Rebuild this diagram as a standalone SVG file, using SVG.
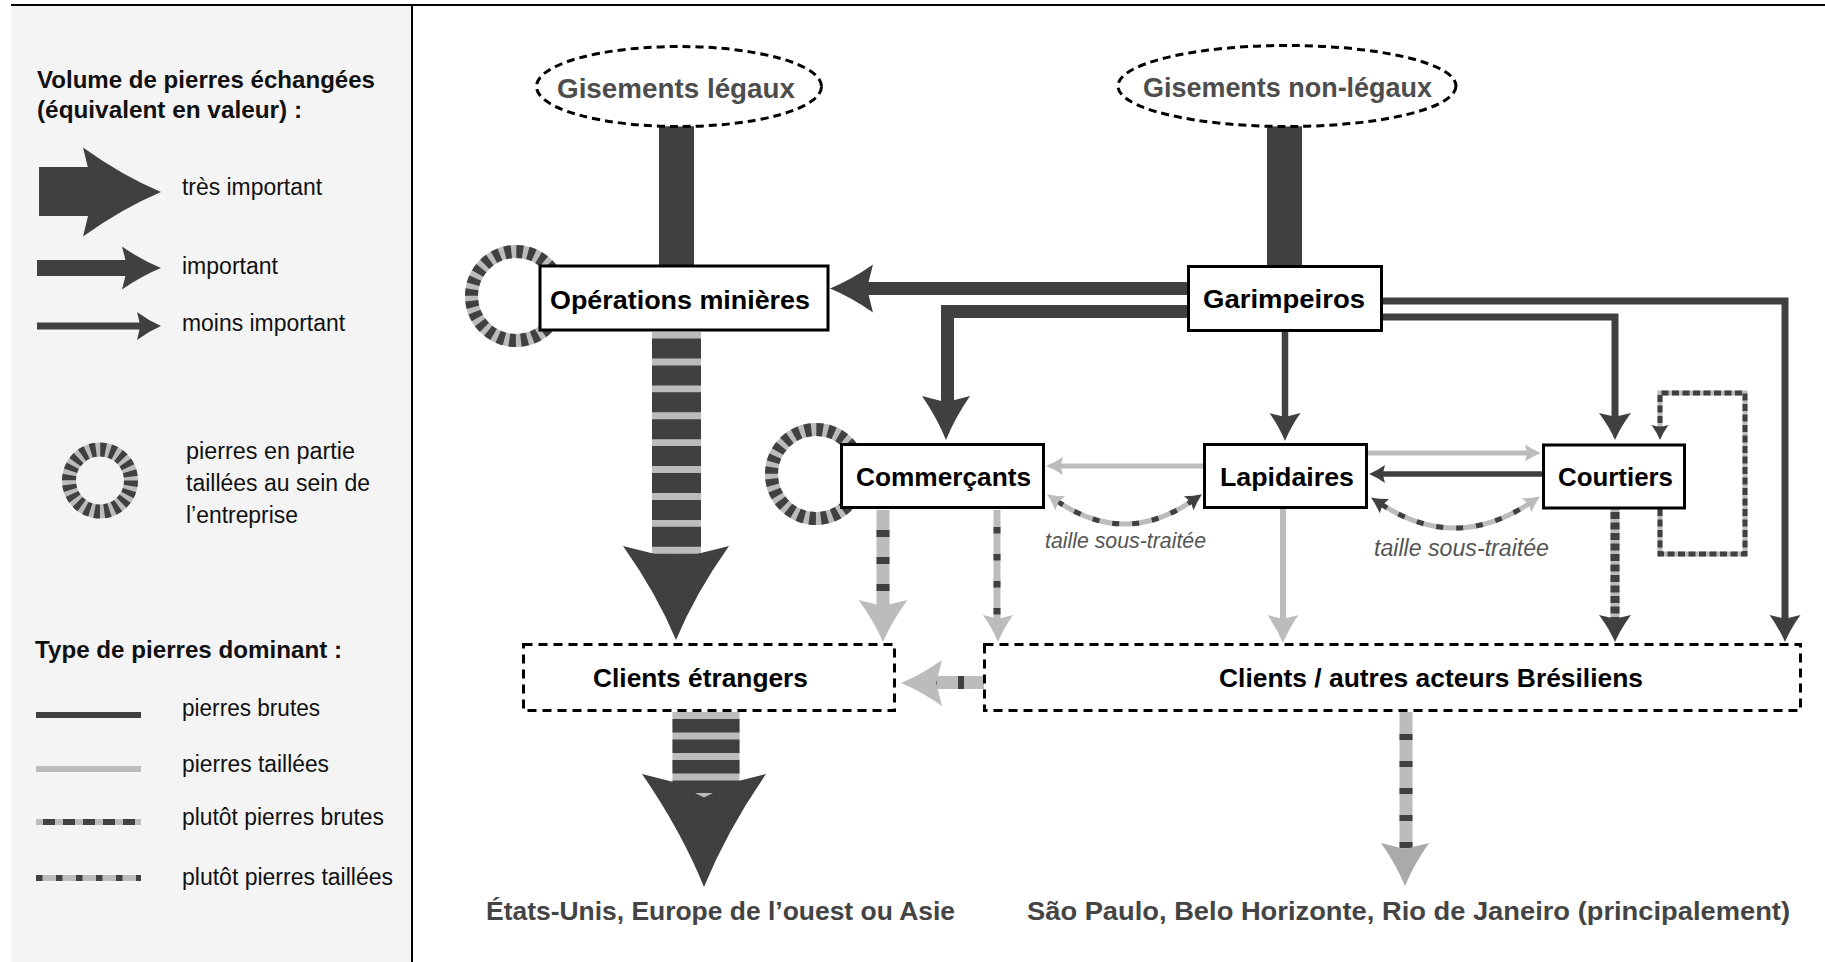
<svg xmlns="http://www.w3.org/2000/svg" width="1825" height="962" viewBox="0 0 1825 962">
<style>
.fd{fill:#404040}
.fl{fill:#bcbcbc}
.fm{fill:#aaaaaa}
.sd{stroke:#404040;fill:none}
.sl{stroke:#bcbcbc;fill:none}
.box{fill:#fff;stroke:#000;stroke-width:3}
.dbox{fill:#fff;stroke:#000;stroke-width:3;stroke-dasharray:9 6}
.ell{fill:#fff;stroke:#000;stroke-width:3;stroke-dasharray:8 5}
.ringb{fill:none;stroke:#bcbcbc;stroke-width:13}
.ringd{fill:none;stroke:#404040;stroke-width:13;stroke-dasharray:6.6 5.05}
text{font-family:"Liberation Sans",Arial,sans-serif}
.lbl{font-weight:bold;font-size:26.5px;fill:#000}
.gis{font-weight:bold;font-size:27px;fill:#4d4d4d}
.bot{font-weight:bold;font-size:26.5px;fill:#444}
.leg{font-size:23px;fill:#111}
.legh{font-weight:bold;font-size:24px;fill:#111}
.ts{font-style:italic;font-size:21.5px;fill:#555}
</style>
<defs>
<path id="hd" d="M0,0 Q-0.5,-0.37 -1,-1 L-0.86,0 L-1,1 Q-0.5,0.37 0,0Z"/>
</defs>
<rect width="1825" height="962" fill="#fff"/>

<g id="legend">
<rect x="11" y="5" width="401" height="957" fill="#f4f4f4"/>
<line x1="11" y1="5" x2="1825" y2="5" stroke="#000" stroke-width="2"/>
<line x1="412" y1="5" x2="412" y2="962" stroke="#000" stroke-width="2"/>
<text class="legh" x="37" y="88" textLength="338" lengthAdjust="spacingAndGlyphs">Volume de pierres échangées</text>
<text class="legh" x="37" y="118" textLength="265" lengthAdjust="spacingAndGlyphs">(équivalent en valeur) :</text>
<rect x="39" y="167" width="60" height="49" class="fd"/>
<use href="#hd" class="fd" transform="translate(161,192) scale(78,44.5)"/>
<text class="leg" x="182" y="195" textLength="140" lengthAdjust="spacingAndGlyphs">très important</text>
<rect x="37" y="260" width="95" height="16" class="fd"/>
<use href="#hd" class="fd" transform="translate(161,268) scale(39,21.5)"/>
<text class="leg" x="182" y="274" textLength="96" lengthAdjust="spacingAndGlyphs">important</text>
<rect x="37" y="322.5" width="110" height="7" class="fd"/>
<use href="#hd" class="fd" transform="translate(161,326) scale(24,14)"/>
<text class="leg" x="182" y="331" textLength="163" lengthAdjust="spacingAndGlyphs">moins important</text>
<circle cx="100" cy="480.5" r="31" fill="none" stroke="#bcbcbc" stroke-width="14"/>
<circle cx="100" cy="480.5" r="31" fill="none" stroke="#404040" stroke-width="14" stroke-dasharray="5.4 4.34"/>
<text class="leg" x="186" y="459" textLength="169" lengthAdjust="spacingAndGlyphs">pierres en partie</text>
<text class="leg" x="186" y="491" textLength="184" lengthAdjust="spacingAndGlyphs">taillées au sein de</text>
<text class="leg" x="186" y="523" textLength="112" lengthAdjust="spacingAndGlyphs">l’entreprise</text>
<text class="legh" x="35" y="658" textLength="307" lengthAdjust="spacingAndGlyphs">Type de pierres dominant :</text>
<line x1="36" y1="715" x2="141" y2="715" class="sd" stroke-width="6"/>
<line x1="36" y1="769" x2="141" y2="769" class="sl" stroke-width="6"/>
<line x1="36" y1="822" x2="141" y2="822" class="sl" stroke-width="6"/>
<line x1="43" y1="822" x2="141" y2="822" class="sd" stroke-width="6" stroke-dasharray="12 8"/>
<line x1="36" y1="878" x2="141" y2="878" class="sl" stroke-width="6"/>
<line x1="36" y1="878" x2="141" y2="878" class="sd" stroke-width="6" stroke-dasharray="6.5 13.5"/>
<text class="leg" x="182" y="716" textLength="138" lengthAdjust="spacingAndGlyphs">pierres brutes</text>
<text class="leg" x="182" y="772" textLength="147" lengthAdjust="spacingAndGlyphs">pierres taillées</text>
<text class="leg" x="182" y="825" textLength="202" lengthAdjust="spacingAndGlyphs">plutôt pierres brutes</text>
<text class="leg" x="182" y="885" textLength="211" lengthAdjust="spacingAndGlyphs">plutôt pierres taillées</text>
</g>

<g id="connectors">
<rect x="659" y="124" width="35" height="143" class="fd"/>
<rect x="1267" y="124" width="35" height="143" class="fd"/>
<!-- Opérations -> Clients étrangers -->
<line x1="676.5" y1="332" x2="676.5" y2="562" class="sl" stroke-width="49"/>
<line x1="676.5" y1="338.5" x2="676.5" y2="562" class="sd" stroke-width="49" stroke-dasharray="20 6.9"/>
<use href="#hd" class="fd" transform="translate(676,640) rotate(90) scale(94,53)"/>
<!-- Clients étrangers -> international -->
<line x1="706" y1="712" x2="706" y2="795" class="sl" stroke-width="67"/>
<line x1="706" y1="719" x2="706" y2="795" class="sd" stroke-width="67" stroke-dasharray="13.5 7"/>
<use href="#hd" class="fd" transform="translate(704,887) rotate(90) scale(113,62)"/>
<path d="M695,793 L713,793 L704,797.5Z" class="fl"/>
<!-- Garimpeiros -> Opérations -->
<line x1="1188" y1="288.5" x2="865" y2="288.5" class="sd" stroke-width="13"/>
<use href="#hd" class="fd" transform="translate(830,288.5) rotate(180) scale(43,24)"/>
<!-- Garimpeiros -> Commerçants -->
<polyline points="1188,311.5 947.5,311.5 947.5,405" class="sd" stroke-width="13" stroke-linejoin="miter"/>
<use href="#hd" class="fd" transform="translate(946,440) rotate(90) scale(44,24)"/>
<!-- Garimpeiros -> Lapidaires -->
<line x1="1285" y1="331" x2="1285" y2="420" class="sd" stroke-width="6.5"/>
<use href="#hd" class="fd" transform="translate(1285,441) rotate(90) scale(28,15.5)"/>
<!-- Garimpeiros -> Courtiers -->
<polyline points="1383,317 1615,317 1615,420" class="sd" stroke-width="7" stroke-linejoin="miter"/>
<use href="#hd" class="fd" transform="translate(1615,440) rotate(90) scale(27,16)"/>
<!-- Garimpeiros -> Clients brésiliens -->
<polyline points="1383,301 1785,301 1785,620" class="sd" stroke-width="7" stroke-linejoin="miter"/>
<use href="#hd" class="fd" transform="translate(1785,642) rotate(90) scale(27,15.5)"/>
<!-- Lapidaires -> Commerçants -->
<line x1="1203" y1="466" x2="1058" y2="466" class="sl" stroke-width="5"/>
<use href="#hd" class="fl" transform="translate(1046,466) rotate(180) scale(17,9)"/>
<!-- Lapidaires -> Courtiers -->
<line x1="1368" y1="453" x2="1528" y2="453" class="sl" stroke-width="5"/>
<use href="#hd" class="fl" transform="translate(1541,453) scale(16,8.5)"/>
<!-- Courtiers -> Lapidaires -->
<line x1="1542" y1="474" x2="1382" y2="474" class="sd" stroke-width="5.5"/>
<use href="#hd" class="fd" transform="translate(1369,474) rotate(180) scale(16,9)"/>
<!-- Lapidaires -> Clients brésiliens -->
<line x1="1283" y1="509" x2="1283" y2="625" class="sl" stroke-width="6"/>
<use href="#hd" class="fl" transform="translate(1283,643) rotate(90) scale(28,15.5)"/>
<!-- taille sous-traitée : Commerçants <-> Lapidaires -->
<path d="M1057,501 Q1124.5,547 1192,501" class="sl" stroke-width="5"/>
<path d="M1057,501 Q1124.5,547 1192,501" class="sd" stroke-width="5" stroke-dasharray="7 13"/>
<use href="#hd" class="fl" transform="translate(1047,494.2) rotate(214.3) scale(16,8.5)"/>
<use href="#hd" class="fd" transform="translate(1202,494.2) rotate(-34.3) scale(16,8.5)"/>
<!-- taille sous-traitée : Lapidaires <-> Courtiers -->
<path d="M1381,504 Q1455.5,552.5 1530,503" class="sl" stroke-width="5"/>
<path d="M1381,504 Q1455.5,552.5 1530,503" class="sd" stroke-width="5" stroke-dasharray="7 13"/>
<use href="#hd" class="fd" transform="translate(1371,497.5) rotate(213.1) scale(16,8.5)"/>
<use href="#hd" class="fl" transform="translate(1540,496.4) rotate(-33.6) scale(16,8.5)"/>
<!-- Courtiers self loop -->
<path d="M1660,509 V554 H1745 V393 H1660 V428" class="sl" stroke-width="5"/>
<path d="M1660,509 V554 H1745 V393 H1660 V428" class="sd" stroke-width="5" stroke-dasharray="7 3.5"/>
<use href="#hd" class="fd" transform="translate(1660,440) rotate(90) scale(15,8.5)"/>
<!-- Courtiers -> Clients brésiliens -->
<line x1="1615" y1="509" x2="1615" y2="625" class="sl" stroke-width="9"/>
<line x1="1615" y1="512" x2="1615" y2="625" class="sd" stroke-width="9" stroke-dasharray="7 3.5"/>
<use href="#hd" class="fd" transform="translate(1615,642) rotate(90) scale(27,16)"/>
<!-- Commerçants -> Clients étrangers -->
<line x1="883" y1="510" x2="883" y2="612" class="sl" stroke-width="13"/>
<line x1="883" y1="530" x2="883" y2="600" class="sd" stroke-width="13" stroke-dasharray="7 20"/>
<use href="#hd" class="fl" transform="translate(883,642) rotate(90) scale(42,24.5)"/>
<!-- Commerçants -> Clients brésiliens -->
<line x1="997" y1="510" x2="997" y2="625" class="sl" stroke-width="7"/>
<line x1="997" y1="527" x2="997" y2="618" class="sd" stroke-width="7" stroke-dasharray="6.5 20.5"/>
<use href="#hd" class="fl" transform="translate(998,642) rotate(90) scale(27,15)"/>
<!-- Clients brésiliens -> Clients étrangers -->
<line x1="984" y1="682.5" x2="930" y2="682.5" class="sl" stroke-width="13"/>
<rect x="958" y="676" width="6" height="13" class="fd"/>
<rect x="932" y="676" width="5" height="13" class="fd"/>
<use href="#hd" class="fl" transform="translate(901,683) rotate(180) scale(41,23)"/>
<!-- Clients brésiliens -> villes -->
<line x1="1406" y1="712" x2="1406" y2="862" class="sl" stroke-width="13"/>
<line x1="1406" y1="734" x2="1406" y2="850" class="sd" stroke-width="13" stroke-dasharray="6 21"/>
<use href="#hd" class="fm" transform="translate(1405,886) rotate(90) scale(43,24)"/>
</g>

<g id="gisements-legaux">
<ellipse cx="679" cy="86.5" rx="142.5" ry="40" class="ell"/>
<text class="gis" x="557" y="98" textLength="238" lengthAdjust="spacingAndGlyphs">Gisements légaux</text>
</g>
<g id="gisements-non-legaux">
<ellipse cx="1287" cy="86" rx="169" ry="40.5" class="ell"/>
<text class="gis" x="1143" y="97" textLength="289" lengthAdjust="spacingAndGlyphs">Gisements non-légaux</text>
</g>
<g id="operations-minieres">
<circle cx="516" cy="296" r="44.5" class="ringb"/>
<circle cx="516" cy="296" r="44.5" class="ringd"/>
<rect x="540" y="266" width="288" height="64" class="box"/>
<text class="lbl" x="550" y="309" textLength="260" lengthAdjust="spacingAndGlyphs">Opérations minières</text>
</g>
<g id="garimpeiros">
<rect x="1188.5" y="266.5" width="193" height="64" class="box"/>
<text class="lbl" x="1203" y="308" textLength="162" lengthAdjust="spacingAndGlyphs">Garimpeiros</text>
</g>
<g id="commercants">
<circle cx="816" cy="474" r="44.5" class="ringb"/>
<circle cx="816" cy="474" r="44.5" class="ringd"/>
<rect x="841.5" y="444.5" width="202" height="63" class="box"/>
<text class="lbl" x="856" y="486" textLength="175" lengthAdjust="spacingAndGlyphs">Commerçants</text>
</g>
<g id="lapidaires">
<rect x="1204.5" y="444.5" width="162" height="63" class="box"/>
<text class="lbl" x="1220" y="486" textLength="134" lengthAdjust="spacingAndGlyphs">Lapidaires</text>
</g>
<g id="courtiers">
<rect x="1543.5" y="445" width="141" height="63" class="box"/>
<text class="lbl" x="1558" y="486" textLength="115" lengthAdjust="spacingAndGlyphs">Courtiers</text>
</g>
<g id="clients-etrangers">
<rect x="523.5" y="644.5" width="371" height="66" class="dbox"/>
<text class="lbl" x="593" y="687" textLength="215" lengthAdjust="spacingAndGlyphs">Clients étrangers</text>
</g>
<g id="clients-bresiliens">
<rect x="984.5" y="644.5" width="816" height="66" class="dbox"/>
<text class="lbl" x="1219" y="687" textLength="424" lengthAdjust="spacingAndGlyphs">Clients / autres acteurs Brésiliens</text>
</g>
<g id="labels">
<text class="ts" x="1045" y="548" textLength="161" lengthAdjust="spacingAndGlyphs">taille sous-traitée</text>
<text class="ts" x="1374" y="556" textLength="175" lengthAdjust="spacingAndGlyphs" style="font-size:23px">taille sous-traitée</text>
<text class="bot" x="486" y="920" textLength="469" lengthAdjust="spacingAndGlyphs">États-Unis, Europe de l’ouest ou Asie</text>
<text class="bot" x="1027" y="920" textLength="763" lengthAdjust="spacingAndGlyphs">São Paulo, Belo Horizonte, Rio de Janeiro (principalement)</text>
</g>
</svg>
